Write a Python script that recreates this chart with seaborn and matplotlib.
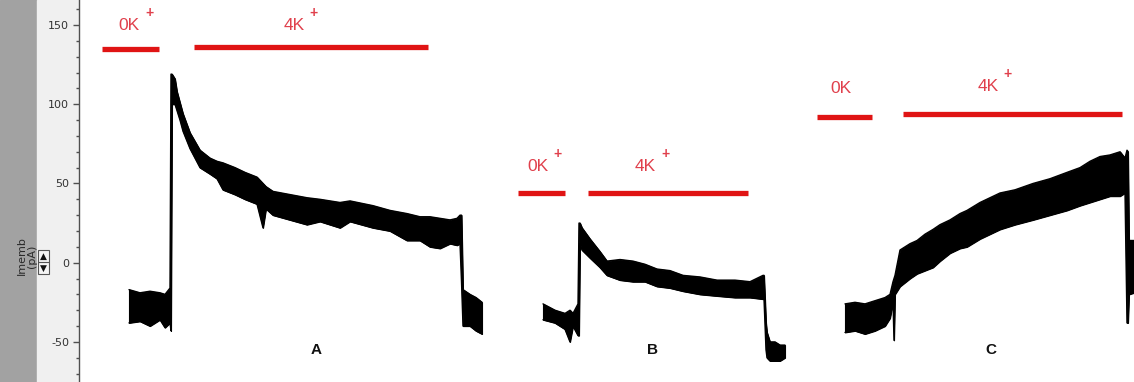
import numpy as np
import pandas as pd
import matplotlib
matplotlib.use("Agg")
import matplotlib.pyplot as plt
from matplotlib.patches import Rectangle
from matplotlib import font_manager
import seaborn as sns

# ---------------- data ----------------
# Trace A: time, lower envelope, upper envelope (pA)
a_t  = [129, 140, 150, 160, 165, 170, 171, 172, 175, 177, 180, 183, 190, 200, 210, 217, 223, 235, 245, 257, 263, 266,
        273, 290, 307, 320, 340, 350, 373, 390, 407, 420, 430, 440, 450, 457, 460, 461.5, 463, 470, 476, 482]
a_lo = [-38, -37, -40, -36, -41, -38, -43, 100, 100, 96, 90, 83, 72, 60, 56, 53, 46, 43, 40, 37, 22, 34,
        30, 27, 24, 26, 22, 26, 22, 20, 14, 14, 10, 9, 12, 11, 12, -12, -40, -40, -43, -45]
a_hi = [-17, -19, -18, -19, -20, -16, 119, 119, 116, 108, 101, 94, 82, 71, 66, 64, 63, 60, 57, 54, 50, 48,
        45, 43, 41, 40, 38, 39, 36, 33, 31, 29, 29, 28, 27, 28, 30, 30, -17, -20, -22, -25]

# Trace B
b_t  = [543, 555, 565, 570, 573, 578, 579, 580, 582, 590, 600, 607, 620, 633, 645, 657, 670, 683, 700, 717,
        735, 750, 763, 764, 766, 767, 770, 775, 780, 785]
b_lo = [-36, -38, -42, -50, -40, -46, -46, 12, 8, 3, -3, -8, -11, -12, -12, -15, -16, -18, -20, -21,
        -22, -22, -23, -23, -55, -60, -62, -62, -62, -60]
b_hi = [-26, -30, -32, -30, -32, -26, 25, 25, 22, 15, 7, 1, 2, 1, -1, -4, -5, -8, -9, -11,
        -11, -12, -8, -8, -38, -44, -50, -50, -52, -52]

# Trace C
c_t  = [845, 855, 865, 875, 885, 890, 893, 894, 895, 900, 910, 917, 925, 933, 940, 950, 960, 967, 980, 990,
        1000, 1015, 1033, 1050, 1067, 1080, 1090, 1100, 1110, 1120, 1125, 1127, 1128, 1129, 1134]
c_lo = [-44, -43, -45, -43, -40, -35, -25, -49, -20, -15, -10, -7, -5, -3, 1, 6, 9, 10, 15, 18,
        21, 24, 27, 30, 33, 36, 38, 40, 42, 42, 44, -38, -38, -20, -19]
c_hi = [-26, -25, -26, -24, -22, -20, -12, -10, -8, 8, 12, 14, 18, 21, 24, 27, 31, 33, 38, 41,
        44, 46, 50, 53, 57, 60, 64, 67, 68, 70, 66, 71, 70, 14, 14]

# Solution-application bars
bar_start = [102, 194, 518, 588, 817, 903]
bar_end   = [159, 428, 565, 748, 872, 1122]
bar_level = [135, 136, 44, 44, 92, 94]
bar_label = ["0K", "4K", "0K", "4K", "0K", "4K"]
bar_plus  = [True, True, True, True, False, True]
label_y   = [149.4, 149.4, 60.4, 60.4, 109.7, 110.9]
label_x   = [129, 294, 538, 645, 841, 988]

panel_names = ["A", "B", "C"]
panel_x     = [316, 653, 991]

yticks = [-50, 0, 50, 100, 150]

# ---------------- figure ----------------
sns.set_theme(style="white")
plt.rcParams["font.family"] = ["DejaVu Sans"]
plt.rcParams["axes.unicode_minus"] = False

names = {f.name for f in font_manager.fontManager.ttflist}
label_font = "Liberation Sans Narrow" if "Liberation Sans Narrow" in names else "Liberation Sans"

W, H, DPI = 1134, 382, 100
fig = plt.figure(figsize=(W / DPI, H / DPI), dpi=DPI)
fig.patch.set_facecolor("white")

# left grey panels (instrument UI)
fig.add_artist(Rectangle((0, 0), 37 / W, 1, transform=fig.transFigure, color="#a2a2a2", zorder=0))
fig.add_artist(Rectangle((37 / W, 0), (79 - 37) / W, 1, transform=fig.transFigure, color="#f0f0f0", zorder=0))

ax = fig.add_axes([79 / W, 0, 1 - 79 / W, 1])
ax.set_facecolor("white")
ax.set_xlim(79, 1134)
ax.set_ylim(-75.3, 165.8)

for t, lo, hi in [(a_t, a_lo, a_hi), (b_t, b_lo, b_hi), (c_t, c_lo, c_hi)]:
    ax.fill_between(t, lo, hi, color="black", linewidth=0.8, edgecolor="black", zorder=3)
    df = pd.DataFrame({"t": t, "lo": lo, "hi": hi})
    sns.lineplot(data=df, x="t", y="lo", color="black", lw=1, sort=False, ax=ax, zorder=3)
    sns.lineplot(data=df, x="t", y="hi", color="black", lw=1, sort=False, ax=ax, zorder=3)

bar_red = "#e01414"
text_red = "#e0404c"
for s, e, lev in zip(bar_start, bar_end, bar_level):
    sns.lineplot(x=[s, e], y=[lev, lev], color=bar_red, lw=3.8, ax=ax, zorder=4,
                 solid_capstyle="butt")

for lab, lx, ly, plus in zip(bar_label, label_x, label_y, bar_plus):
    ax.text(lx, ly, lab, color=text_red, fontsize=12.5, ha="center", va="center",
            family=label_font, zorder=5)
    if plus:
        ax.text(lx + 20, ly + 8.0, "+", color=text_red, fontsize=10, ha="center", va="center",
                family="Liberation Sans", fontweight="bold", zorder=5)

for name, px in zip(panel_names, panel_x):
    ax.text(px, -55.2, name, color="#111111", fontsize=11, fontweight="bold",
            ha="center", va="center", family="Liberation Sans")

# y axis styling
for side in ["top", "right", "bottom"]:
    ax.spines[side].set_visible(False)
ax.spines["left"].set_color("#505050")
ax.spines["left"].set_linewidth(1.0)
ax.set_xticks([])
ax.set_yticks(yticks)
ax.set_yticks(np.arange(-70, 166, 10), minor=True)
ax.tick_params(axis="y", which="major", direction="out", length=4, width=1, color="#505050",
               labelsize=8, labelcolor="#333333", pad=3, left=True)
ax.tick_params(axis="y", which="minor", direction="out", length=2.5, width=1, color="#505050", left=True)
ax.set_xlabel("")
ax.set_ylabel("")

# axis title in the grey panel
fig.text(27 / W, 1 - 256 / H, "Imemb\n(pA)", rotation=90, fontsize=8, color="#2a2a2a",
         ha="center", va="center", linespacing=1.0)
# small spinner widget
fig.add_artist(Rectangle((38 / W, 1 - 274 / H), 11 / W, 24 / H, transform=fig.transFigure,
                         facecolor="#f4f4f4", edgecolor="#555555", lw=0.8, zorder=2))
fig.add_artist(plt.Line2D([38 / W, 49 / W], [1 - 262 / H, 1 - 262 / H], transform=fig.transFigure,
                          color="#555555", lw=0.8, zorder=3))
fig.text(43.5 / W, 1 - 256 / H, "▲", fontsize=6.5, ha="center", va="center", color="#111111", zorder=3)
fig.text(43.5 / W, 1 - 268 / H, "▼", fontsize=6.5, ha="center", va="center", color="#111111", zorder=3)

fig.savefig("out.png", dpi=DPI, facecolor="white")
